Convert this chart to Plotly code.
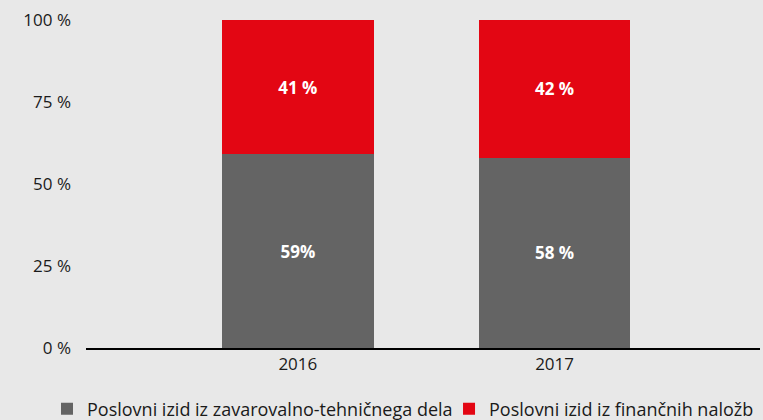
import plotly.graph_objects as go

years = ["2016", "2017"]
tech = [59, 58]
fin = [41, 42]
tech_labels = ["59%", "58 %"]
fin_labels = ["41 %", "42 %"]
tick_vals = [0, 25, 50, 75, 100]
tick_text = ["0 %", "25 %", "50 %", "75 %", "100 %"]

FONT = "Open Sans"
fig = go.Figure()
fig.add_trace(go.Bar(
    x=years, y=tech, name="Poslovni izid iz zavarovalno-tehničnega dela",
    marker=dict(color="#646464", line=dict(width=0)), width=0.59,
    text=tech_labels, textposition="inside", insidetextanchor="middle",
    textfont=dict(color="white", size=17, family=FONT, weight="bold"),
    legend="legend",
))
fig.add_trace(go.Bar(
    x=years, y=fin, name="Poslovni izid iz finančnih naložb",
    marker=dict(color="#e30613", line=dict(width=0)), width=0.59,
    text=fin_labels, textposition="inside", insidetextanchor="middle",
    textfont=dict(color="white", size=17, family=FONT, weight="bold"),
    legend="legend2",
))
leg_common = dict(orientation="h", xanchor="left", xref="container",
                  y=0.026, yanchor="middle", yref="container",
                  font=dict(size=18), itemwidth=30,
                  bgcolor="rgba(0,0,0,0)")
fig.update_layout(
    barmode="stack",
    width=763, height=420,
    paper_bgcolor="#e8e8e8", plot_bgcolor="#e8e8e8",
    margin=dict(l=86, r=3, t=20, b=72, autoexpand=False),
    font=dict(family=FONT, size=17, color="#1a1a1a"),
    showlegend=True,
    legend=dict(x=0.0616, **leg_common),
    legend2=dict(x=0.5885, **leg_common),
    uniformtext=dict(mode="show", minsize=17),
)
fig.update_xaxes(type="category", range=[-0.825, 1.8], showgrid=False,
                 showline=True, linecolor="black", linewidth=2, ticks="",
                 tickfont=dict(size=17))
fig.update_yaxes(range=[0, 100], tickvals=tick_vals, ticktext=tick_text,
                 showgrid=False, zeroline=False, showline=False, ticks="",
                 ticklabelstandoff=14, tickfont=dict(size=17))
fig.write_html("out.html", config={"displayModeBar": False},
               post_script="document.body.style.margin='0';document.body.style.overflow='hidden';")
